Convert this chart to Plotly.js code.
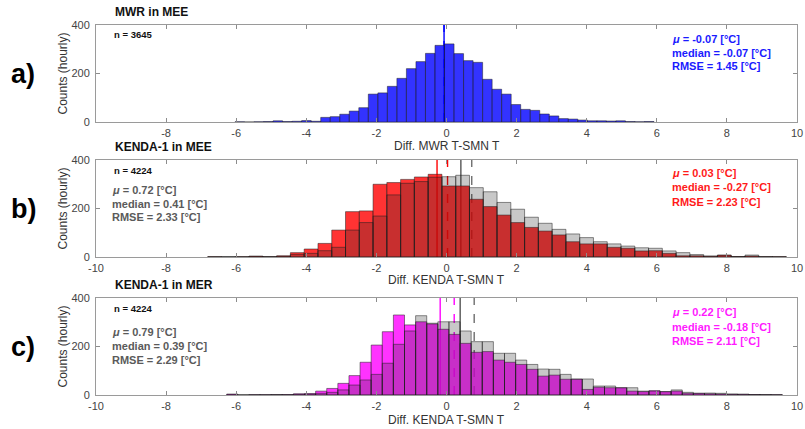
<!DOCTYPE html>
<html><head><meta charset="utf-8">
<script src="https://cdn.plot.ly/plotly-3.0.1.min.js"></script>
<style>html,body{margin:0;padding:0;background:#fff}#chart{width:805px;height:429px}</style>
</head><body><div id="chart"></div>
<script>
// ---------------- data ----------------
const xTickVals = [-10, -8, -6, -4, -2, 0, 2, 4, 6, 8, 10];
const xTickTextA = ['', '-8', '-6', '-4', '-2', '0', '2', '4', '6', '8', '10'];
const xTickText = ['-10', '-8', '-6', '-4', '-2', '0', '2', '4', '6', '8', '10'];
const yTickVals = [0, 200, 400];
const yTickText = ['0', '200', '400'];

// panel a: MWR in MEE (bin edges start, bin width, counts)
const binStartA = -6.034, binWidthA = 0.2717;
const countsMWR = [1,0,1,2,5,2,3,6,3,19,22,32,45,59,115,120,147,180,220,249,283,316,322,282,253,246,176,135,115,72,52,48,33,25,14,12,8,5,5,4,5,2,1,2];

// panel b: KENDA-1 in MEE (red) and reference (grey)
const binStartB = -6.811, binWidthB = 0.393;
const countsKendaMEE = [1,0,1,4,1,5,18,33,56,111,187,190,300,307,320,330,341,293,293,238,208,173,142,122,107,91,63,54,54,40,36,25,26,15,5,5,3,8,2,4,1,1];
const countsRefMEE   = [1,1,1,2,2,3,11,15,26,40,111,142,169,256,304,311,329,331,337,286,269,225,197,164,139,114,95,80,63,54,45,38,36,25,18,10,4,7,2,8,2,1];

// panel c: KENDA-1 in MER (magenta) and reference (grey)
const binStartC = -6.27, binWidthC = 0.317;
const countsKendaMER = [4,0,1,1,1,2,5,6,16,27,48,80,135,206,261,330,289,302,293,271,250,213,176,179,144,135,126,106,78,82,65,65,23,32,30,30,16,14,18,14,16,7,7,5,4,3,3,2,1,1];
const countsRefMER   = [1,0,1,1,2,1,3,4,7,11,21,41,62,85,131,209,264,327,296,302,302,264,220,220,172,172,144,126,107,106,85,66,66,37,37,30,30,16,16,14,21,11,7,8,7,4,3,2,2,1];

const panelTitles = ['MWR in MEE', 'KENDA-1 in MEE', 'KENDA-1 in MER'];
const panelLetters = ['a)', 'b)', 'c)'];
const xLabels = ['Diff. MWR T-SMN T', 'Diff. KENDA T-SMN T', 'Diff. KENDA T-SMN T'];
const yLabel = 'Counts (hourly)';
const nLabels = ['n = 3645', 'n = 4224', 'n = 4224'];
const meanMain = [-0.07, 0.03, 0.22];
const medianMain = [-0.07, -0.27, -0.18];
const rmseMain = [1.45, 2.23, 2.11];
const meanRef = [null, 0.72, 0.79];
const medianRef = [null, 0.41, 0.39];
const rmseRef = [null, 2.33, 2.29];

// ---------------- styling ----------------
const FONT = 'Liberation Sans, Arial, Helvetica, sans-serif';
const mainLine = ['#0000ff', '#ff0000', '#ff00ff'];
const mainFill = ['rgba(0,0,255,0.8)', 'rgba(255,0,0,0.8)', 'rgba(255,0,255,0.8)'];
const refFill = 'rgba(35,35,35,0.25)';
const refLine = '#555555';
const edge = {color: 'rgba(30,30,30,0.85)', width: 0.6};

// pixel geometry of the plot area
const L = 96, R = 797, T = 25, B = 395;
const px = x => (x - L) / (R - L);
const py = y => (B - y) / (B - T);
const panelTop = [25, 160, 298];
const panelBot = [122, 257, 395];

function centers(start, w, n) { return Array.from({length: n}, (_, i) => start + (i + 0.5) * w); }
function barTrace(start, w, counts, fill, axIdx) {
  const s = axIdx === 0 ? '' : String(axIdx + 1);
  return {type: 'bar', x: centers(start, w, counts.length), y: counts, width: w,
    marker: {color: fill, line: edge}, xaxis: 'x' + s, yaxis: 'y' + s,
    hoverinfo: 'skip', showlegend: false};
}

const data = [
  barTrace(binStartA, binWidthA, countsMWR, mainFill[0], 0),
  barTrace(binStartB, binWidthB, countsKendaMEE, mainFill[1], 1),
  barTrace(binStartB, binWidthB, countsRefMEE, refFill, 1),
  barTrace(binStartC, binWidthC, countsKendaMER, mainFill[2], 2),
  barTrace(binStartC, binWidthC, countsRefMER, refFill, 2)
];

function xax(i) {
  return {domain: [0, 1], anchor: i === 0 ? 'y' : 'y' + (i + 1), range: [-10, 10],
    tickvals: xTickVals, ticktext: i === 0 ? xTickTextA : xTickText,
    ticks: 'inside', ticklen: 4, tickcolor: '#8c8c8c', showline: true, mirror: 'ticks',
    linecolor: '#9a9a9a', linewidth: 1, showgrid: false, zeroline: false, ticklabelstandoff: 1,
    tickfont: {family: FONT, size: 11, color: '#444'}, fixedrange: true};
}
function yax(i) {
  return {domain: [py(panelBot[i]), py(panelTop[i])], anchor: i === 0 ? 'x' : 'x' + (i + 1),
    range: [0, 400], tickvals: yTickVals, ticktext: yTickText,
    ticks: 'inside', ticklen: 4, tickcolor: '#8c8c8c', showline: true, mirror: 'ticks',
    linecolor: '#9a9a9a', linewidth: 1, showgrid: false, zeroline: false, ticklabelstandoff: 3,
    tickfont: {family: FONT, size: 11, color: '#444'}, fixedrange: true};
}

const fmt = v => v.toFixed(2);
const anns = [];
function ann(text, x, y, xa, font, extra) {
  anns.push(Object.assign({xref: 'paper', yref: 'paper', x: px(x), y: py(y), text: text,
    showarrow: false, xanchor: xa, yanchor: 'middle', font: font}, extra || {}));
}
const titleY = [12, 147, 285];
const xlabY = [146, 280, 420];
const nY = [35, 170, 308];
const statY = [[39, 53, 66], [173, 187, 202], [312, 327, 341]];
const refY = [null, [190, 204, 217], [332, 346, 360]];
const statColor = ['#1a1aff', '#ff1a1a', '#ff1aff'];

for (let i = 0; i < 3; i++) {
  const mid = (panelTop[i] + panelBot[i]) / 2;
  ann('<b>' + panelTitles[i] + '</b>', 113, titleY[i], 'left', {family: FONT, size: 12, color: '#111'});
  ann(xLabels[i], 447, xlabY[i], 'center', {family: FONT, size: 12, color: '#333'});
  ann(yLabel, 62, mid, 'center', {family: FONT, size: 12, color: '#333'}, {textangle: -90});
  ann('<b>' + panelLetters[i] + '</b>', 23, mid, 'center', {family: FONT, size: 27, color: '#000'});
  ann('<b>' + nLabels[i] + '</b>', 112, nY[i], 'left', {family: FONT, size: 9.5, color: '#111'});
  const st = ['<b><i>μ</i> = ' + fmt(meanMain[i]) + ' [°C]</b>', '<b>median = ' + fmt(medianMain[i]) + ' [°C]</b>', '<b>RMSE = ' + fmt(rmseMain[i]) + ' [°C]</b>'];
  st.forEach((t, j) => ann(t, 670, statY[i][j], 'left', {family: FONT, size: 11, color: statColor[i]}));
  if (refY[i]) {
    const rt = ['<b><i>μ</i> = ' + fmt(meanRef[i]) + ' [°C]</b>', '<b>median = ' + fmt(medianRef[i]) + ' [°C]</b>', '<b>RMSE = ' + fmt(rmseRef[i]) + ' [°C]</b>'];
    rt.forEach((t, j) => ann(t, 110, refY[i][j], 'left', {family: FONT, size: 11, color: '#5a5a5a'}));
  }
}

const shapes = [];
function vline(i, x, color, dash) {
  const s = i === 0 ? '' : String(i + 1);
  shapes.push({type: 'line', xref: 'x' + s, yref: 'y' + s, x0: x, x1: x, y0: 0, y1: 400,
    line: {color: color, width: 1.4, dash: dash}, layer: 'below'});
}
for (let i = 0; i < 3; i++) {
  vline(i, medianMain[i], mainLine[i], 'solid');
  vline(i, meanMain[i], mainLine[i], 'dash');
  if (meanRef[i] !== null) {
    vline(i, medianRef[i], refLine, 'solid');
    vline(i, meanRef[i], '#6e6e6e', 'dash');
  }
}

const layout = {
  width: 805, height: 429, margin: {l: L, r: 805 - R, t: T, b: 429 - B, autoexpand: false},
  paper_bgcolor: '#fff', plot_bgcolor: '#fff', barmode: 'overlay', bargap: 0,
  showlegend: false, font: {family: FONT},
  xaxis: xax(0), xaxis2: xax(1), xaxis3: xax(2),
  yaxis: yax(0), yaxis2: yax(1), yaxis3: yax(2),
  annotations: anns, shapes: shapes
};
Plotly.newPlot('chart', data, layout, {staticPlot: true, displayModeBar: false});
</script></body></html>
